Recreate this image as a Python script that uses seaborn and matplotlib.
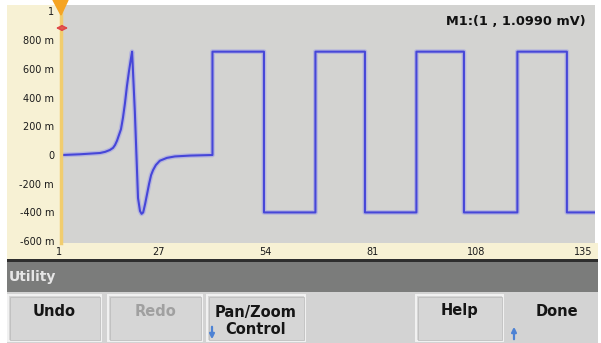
import pandas as pd
import matplotlib.pyplot as plt
from matplotlib.patches import Rectangle, Polygon, FancyArrowPatch
import seaborn as sns

# pulse part of the arbitrary waveform (sample index, volts)
pulse_x = [1, 5.5, 10.6, 11.9, 13.1, 13.9, 14.4, 14.9, 15.4, 15.9, 16.4, 16.9, 17.4,
           17.9, 18.4, 18.7, 19.4, 20.2, 20.7, 21.1, 21.5, 22.0, 22.5, 23.0, 23.5,
           24.0, 24.7, 25.7, 27.5, 29.5, 33.3, 39.0]
pulse_y = [0.0, 0.005, 0.014, 0.022, 0.035, 0.05, 0.07, 0.10, 0.14, 0.18, 0.26, 0.36,
           0.48, 0.58, 0.67, 0.72, 0.30, -0.30, -0.39, -0.41, -0.40, -0.34, -0.27,
           -0.20, -0.14, -0.105, -0.07, -0.04, -0.02, -0.01, -0.004, 0.0]

# square part: sample where each edge happens, and the two levels
edges = [39, 52, 65, 77.5, 90.5, 102.5, 116, 128.5]
level_high = 0.72
level_low = -0.40
x_end = 137

yticks = [-0.6, -0.4, -0.2, 0, 0.2, 0.4, 0.6, 0.8, 1.0]
ytick_labels = ["-600 m", "-400 m", "-200 m", "0", "200 m", "400 m", "600 m", "800 m", "1"]
xticks = [1, 27, 54, 81, 108, 135]

buttons = ["Undo", "Redo", "Pan/Zoom\nControl", "Help"]
marker_label = "M1:(1 , 1.0990 mV)"

W, H = 601, 343


def fx(x):
    return x / W


def fy(y):
    return 1 - y / H


def box(fig, x0, y0, x1, y1, z=-5, **kw):
    r = Rectangle((fx(x0), fy(y1)), (x1 - x0) / W, (y1 - y0) / H,
                  transform=fig.transFigure, zorder=z, **kw)
    fig.add_artist(r)
    return r


# build the full trace
xs = list(pulse_x)
ys = list(pulse_y)
prev = pulse_y[-1]
for i, e in enumerate(edges):
    new = level_high if i % 2 == 0 else level_low
    xs += [e, e]
    ys += [prev, new]
    prev = new
xs.append(x_end)
ys.append(prev)
df = pd.DataFrame({"sample": xs, "volts": ys})

sns.set_style("white")
plt.rcParams["font.family"] = ["DejaVu Sans"]

fig = plt.figure(figsize=(W / 100, H / 100), dpi=100)
fig.patch.set_facecolor("white")

cream = "#f7f1d4"
# cream frame around the plot, then the menu bars
box(fig, 7, 5, 61, 259, color=cream, lw=0)
box(fig, 7, 243, 598, 259, color=cream, lw=0)
box(fig, 7, 259, 598, 262, color="#2e2e2e", lw=0)
box(fig, 7, 262, 598, 292, color="#7b7c7b", lw=0)
box(fig, 7, 292, 598, 343, color="#d3d3d3", lw=0)

ax = fig.add_axes([fx(61), fy(243), (595 - 61) / W, (243 - 5) / H])
ax.set_facecolor("#d3d3d1")

sns.lineplot(data=df, x="sample", y="volts", ax=ax, estimator=None, sort=False,
             color="#9d9de8", linewidth=3.4, alpha=0.55)
sns.lineplot(data=df, x="sample", y="volts", ax=ax, estimator=None, sort=False,
             color="#4646d8", linewidth=1.5)

ax.set_xlim(0.75, 135.6)
ax.set_ylim(-0.613, 1.045)
ax.set_xlabel("")
ax.set_ylabel("")
ax.set_yticks(yticks)
ax.set_yticklabels(ytick_labels)
ax.set_xticks(xticks)
ax.set_xticklabels([str(t) for t in xticks], ha="right")
ax.tick_params(axis="both", direction="in", length=4, color="#ececec", width=1,
               labelsize=7, labelcolor="#1a1a1a", pad=5)
ax.tick_params(axis="x", pad=3)
for s in ["top", "right", "bottom"]:
    ax.spines[s].set_visible(False)
ax.spines["left"].set_color("#f1cd6e")
ax.spines["left"].set_linewidth(2.5)

ax.text(0.983, 0.93, marker_label, transform=ax.transAxes, ha="right", va="center",
        fontsize=9.3, fontweight="bold", color="#111111")

# marker triangle and drag arrow at the top left
tri = Polygon([(fx(53), fy(0)), (fx(68), fy(0)), (fx(61), fy(15))], closed=True,
              transform=fig.transFigure, color="#f5a424", zorder=5)
fig.add_artist(tri)
fig.add_artist(FancyArrowPatch((fx(53), fy(28)), (fx(71), fy(28)),
                               transform=fig.transFigure, arrowstyle="<->",
                               mutation_scale=8, color="#e04848", lw=1.2, zorder=5))

fig.text(fx(9), fy(277), "Utility", ha="left", va="center", fontsize=10,
         fontweight="bold", color="#e6e6e6")

# soft keys
keys = [(8, 101), (108, 202), (207, 305), (416, 503)]
for (x0, x1), lab in zip(keys, buttons):
    box(fig, x0, 295, x1, 341, z=-4, facecolor="#d6d6d6", edgecolor="#f2f2f2", lw=1.4)
    box(fig, x0 + 1.5, 296.5, x1 - 1.5, 339.5, z=-3, facecolor="none",
        edgecolor="#bdbdbd", lw=0.6)
    col = "#a0a0a0" if lab == "Redo" else "#151515"
    fig.text(fx((x0 + x1) / 2), fy(321 if "\n" in lab else 311), lab, ha="center",
             va="center", fontsize=10.5, fontweight="bold", color=col, linespacing=1.2)
fig.text(fx(557), fy(311), "Done", ha="center", va="center", fontsize=10.5,
         fontweight="bold", color="#151515")

# small blue arrows under Pan/Zoom and next to Done
for x, y0, y1 in [(212, 324, 342), (514, 342, 324)]:
    fig.add_artist(FancyArrowPatch((fx(x), fy(y0)), (fx(x), fy(y1)),
                                   transform=fig.transFigure, arrowstyle="-|>",
                                   mutation_scale=7, color="#4d82d4", lw=1.6))

fig.savefig("out.png", dpi=100)
